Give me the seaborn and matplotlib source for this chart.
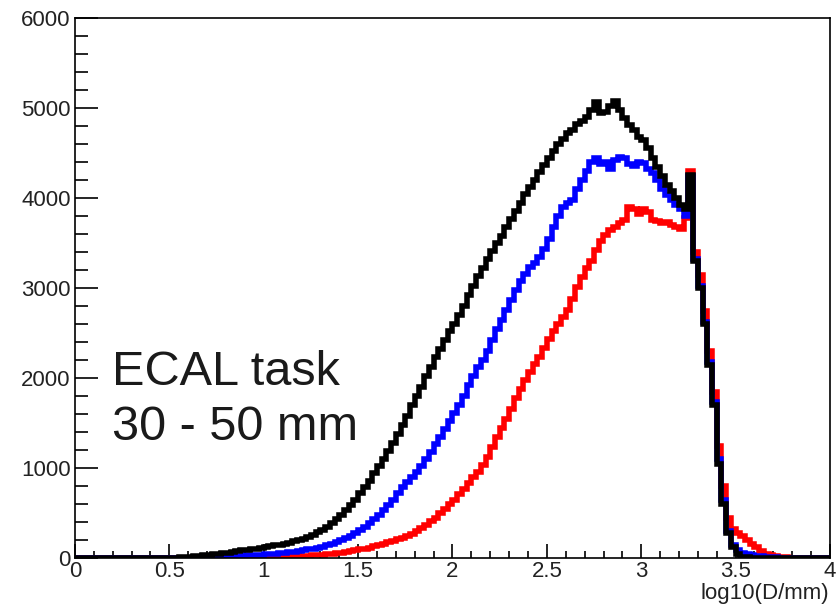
import numpy as np
import pandas as pd
import matplotlib
matplotlib.use("Agg")
import matplotlib.pyplot as plt
from matplotlib.ticker import MultipleLocator, FuncFormatter
import seaborn as sns

# ---------------- data ----------------
x_min, x_max = 0.0, 4.0
n_bins = 160                 # bin width 0.025
first_bin = 0.5              # left edge of first listed bin

black_counts = [
    5, 5, 10, 10, 15, 20, 25, 30, 35, 40, 45, 55, 60, 70, 75, 85, 90, 100, 105, 115,
    120, 130, 140, 150, 160, 170, 185, 200, 215, 235, 260, 285, 315, 350, 390, 430, 480, 530, 590, 650,
    720, 790, 860, 940, 1020, 1100, 1190, 1280, 1380, 1480, 1580, 1700, 1800, 1900, 2020, 2120, 2230, 2320, 2420, 2520,
    2600, 2700, 2800, 2920, 3020, 3130, 3220, 3320, 3410, 3500, 3580, 3680, 3770, 3860, 3950, 4040, 4120, 4200, 4290, 4370,
    4440, 4520, 4600, 4660, 4720, 4760, 4820, 4860, 4900, 4980, 5070, 4950, 4960, 5020, 5080, 4980, 4890, 4810, 4760, 4680,
    4640, 4560, 4450, 4340, 4250, 4150, 4080, 4000, 3920, 3880, 4260, 3300, 3000, 2600, 2150, 1700, 1050, 600, 280, 120,
    40, 15, 8, 5, 4, 3, 2, 1, 1, 0, 0, 0,
]
blue_counts = [
    0, 0, 0, 0, 3, 5, 5, 8, 10, 10, 12, 15, 18, 20, 22, 25, 28, 30, 35, 38,
    40, 45, 50, 55, 60, 65, 72, 80, 88, 95, 105, 115, 125, 140, 155, 175, 200, 225, 250, 280,
    310, 350, 390, 430, 480, 530, 590, 650, 720, 790, 850, 900, 960, 1020, 1100, 1180, 1270, 1350, 1430, 1520,
    1610, 1700, 1800, 1920, 2020, 2120, 2200, 2300, 2420, 2540, 2650, 2760, 2870, 2980, 3080, 3160, 3230, 3280, 3350, 3430,
    3550, 3680, 3800, 3900, 3940, 3980, 4100, 4200, 4300, 4400, 4440, 4380, 4400, 4320, 4420, 4460, 4440, 4380, 4360, 4400,
    4390, 4320, 4280, 4200, 4100, 4030, 3980, 3920, 3880, 3800, 4250, 3320, 3020, 2620, 2180, 1730, 1100, 650, 300, 150,
    90, 60, 40, 30, 25, 20, 15, 10, 10, 5, 3, 2,
]
red_counts = [
    0, 0, 0, 0, 0, 0, 0, 0, 0, 0, 0, 0, 2, 3, 3, 4, 5, 5, 6, 7,
    8, 9, 10, 12, 14, 15, 17, 20, 22, 25, 28, 32, 36, 40, 45, 52, 60, 68, 75, 85,
    95, 105, 115, 130, 145, 160, 175, 190, 210, 225, 245, 270, 300, 330, 370, 410, 450, 500, 550, 600,
    650, 710, 770, 830, 900, 960, 1030, 1120, 1230, 1340, 1440, 1550, 1660, 1780, 1880, 1980, 2070, 2160, 2230, 2330,
    2430, 2520, 2600, 2680, 2760, 2880, 3010, 3120, 3220, 3300, 3420, 3520, 3590, 3650, 3680, 3720, 3760, 3900, 3880, 3820,
    3880, 3850, 3760, 3740, 3720, 3730, 3700, 3680, 3660, 3780, 4300, 3400, 3150, 2750, 2300, 1850, 1250, 800, 450, 320,
    280, 240, 200, 160, 120, 80, 50, 30, 20, 15, 10, 5,
]

y_ticks = [0, 1000, 2000, 3000, 4000, 5000, 6000]
x_ticks = [0, 0.5, 1, 1.5, 2, 2.5, 3, 3.5, 4]
annotation_lines = ["ECAL task", "30 - 50 mm"]
x_label = "log10(D/mm)"

# ---------------- build table ----------------
edges = np.linspace(x_min, x_max, n_bins + 1).tolist()
width = (x_max - x_min) / n_bins
frames = []
for name, counts in [("red", red_counts), ("blue", blue_counts), ("black", black_counts)]:
    centers = first_bin + width * (np.arange(len(counts)) + 0.5)
    frames.append(pd.DataFrame({"x": centers, "count": np.asarray(counts, float), "series": name}))
df = pd.concat(frames, ignore_index=True)

# ---------------- plot ----------------
sns.set_style("white")
plt.rcParams["font.family"] = ["Liberation Sans", "DejaVu Sans"]

fig = plt.figure(figsize=(8.37, 6.10), dpi=100)
ax = fig.add_axes([75 / 837, 1 - 558 / 610, 755 / 837, 540 / 610])

colors = {"red": "#ff0000", "blue": "#0000ff", "black": "#000000"}
for name in ["red", "blue", "black"]:
    sub = df[df["series"] == name]
    sns.histplot(data=sub, x="x", weights="count", bins=edges, element="step",
                 fill=False, color=colors[name], linewidth=4.0,
                 solid_joinstyle="miter", ax=ax)

ax.set_xlim(x_min, x_max)
ax.set_ylim(0, 6000)
ax.set_xlabel("")
ax.set_ylabel("")

ax.set_xticks(x_ticks)
ax.set_yticks(y_ticks)
ax.xaxis.set_minor_locator(MultipleLocator(0.1))
ax.yaxis.set_minor_locator(MultipleLocator(200))
fmt = FuncFormatter(lambda v, p: "%g" % v)
ax.xaxis.set_major_formatter(fmt)
ax.yaxis.set_major_formatter(fmt)

ax.tick_params(bottom=True, left=True, top=False, right=False, which="both")
ax.tick_params(axis="x", which="major", direction="in", length=10, width=1.2,
               labelsize=16, pad=2.5, color="#000000", labelcolor="#222222")
ax.tick_params(axis="x", which="minor", direction="in", length=5, width=1.2, color="#000000")
ax.tick_params(axis="y", which="major", direction="in", length=16.5, width=1.2,
               labelsize=16, pad=3, color="#000000", labelcolor="#222222")
ax.tick_params(axis="y", which="minor", direction="in", length=9, width=1.2, color="#000000")

for s in ax.spines.values():
    s.set_color("black")
    s.set_linewidth(1.2)
    s.set_visible(True)

fig.text(112 / 837, 1 - 385 / 610, annotation_lines[0], fontsize=35,
         color="#1a1a1a", ha="left", va="baseline")
fig.text(112 / 837, 1 - 440 / 610, annotation_lines[1], fontsize=35,
         color="#1a1a1a", ha="left", va="baseline")

fig.text(829 / 837, 1 - 593 / 610, x_label, fontsize=16, color="#222222",
         ha="right", va="center")

fig.savefig("out.png", dpi=100, facecolor="white")
